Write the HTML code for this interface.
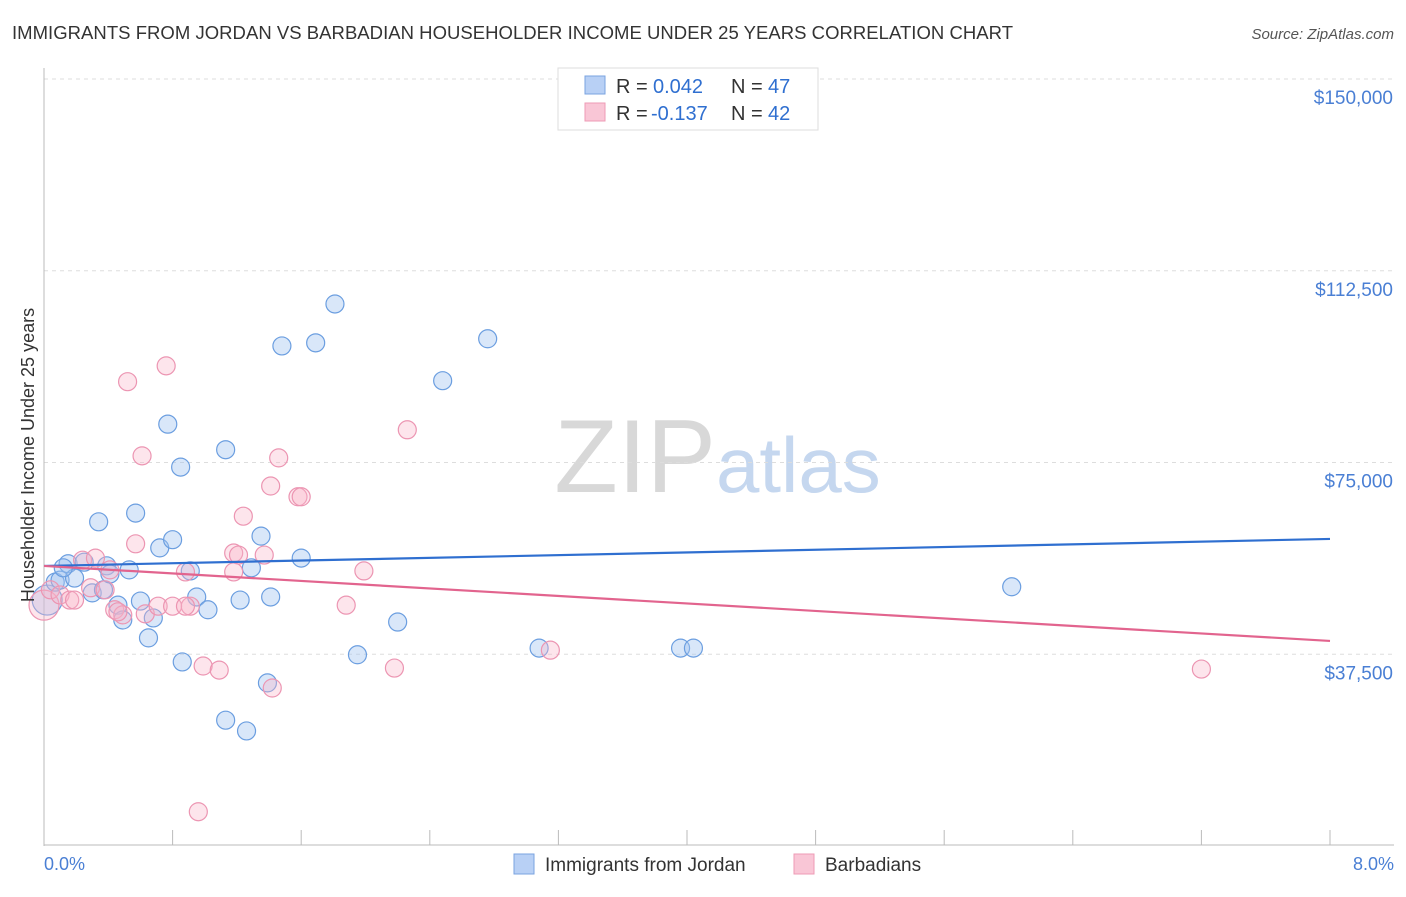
<!DOCTYPE html>
<html><head><meta charset="utf-8"><style>
body{margin:0;background:#fff;font-family:"Liberation Sans",sans-serif;}
svg text{font-family:"Liberation Sans",sans-serif;}
</style></head><body>
<svg id="chart" width="1406" height="892">
<text x="12" y="39" font-size="18.5" fill="#333" textLength="1001">IMMIGRANTS FROM JORDAN VS BARBADIAN HOUSEHOLDER INCOME UNDER 25 YEARS CORRELATION CHART</text>
<text x="1394" y="39" font-size="15" fill="#555" font-style="italic" text-anchor="end">Source: ZipAtlas.com</text>
<text x="716" y="492" font-size="104" fill="#d8d8d8" font-family="Liberation Serif" text-anchor="end">ZIP</text>
<text x="716" y="492" font-size="78" fill="#c5d7ef">atlas</text>
<g id="grid"></g><g id="axes"></g><g id="pts"></g><g id="lines"></g>
<text transform="translate(34,455) rotate(-90)" font-size="18" fill="#333" text-anchor="middle">Householder Income Under 25 years</text>
<text x="44" y="870" font-size="18" fill="#4a7fd4">0.0%</text>
<text x="1394" y="870" font-size="18" fill="#4a7fd4" text-anchor="end">8.0%</text>
<g>
<rect x="558" y="68" width="260" height="62" fill="#fff" stroke="#ddd"/>
<rect x="585" y="76" width="20" height="18" fill="#b8d0f5" stroke="#7aa3e0"/>
<rect x="585" y="103" width="20" height="18" fill="#f9c6d6" stroke="#ee9bb5"/>
<text x="616" y="93" font-size="20" fill="#333">R =</text>
<text x="653" y="93" font-size="20" fill="#2f6fd0">0.042</text>
<text x="731" y="93" font-size="20" fill="#333">N =</text>
<text x="768" y="93" font-size="20" fill="#2f6fd0">47</text>
<text x="616" y="120" font-size="20" fill="#333">R =</text>
<text x="651" y="120" font-size="20" fill="#2f6fd0">-0.137</text>
<text x="731" y="120" font-size="20" fill="#333">N =</text>
<text x="768" y="120" font-size="20" fill="#2f6fd0">42</text>
</g>
<g>
<rect x="514" y="854" width="20" height="20" fill="#b8d0f5" stroke="#7aa3e0"/>
<text x="545" y="871" font-size="19" fill="#333">Immigrants from Jordan</text>
<rect x="794" y="854" width="20" height="20" fill="#f9c6d6" stroke="#ee9bb5"/>
<text x="825" y="871" font-size="19" fill="#333">Barbadians</text>
</g>
</svg>
<script>
const yTicks=[37500,75000,112500,150000];
const yTickLabels=["$37,500","$75,000","$112,500","$150,000"];
const xTicks=[0.8,1.6,2.4,3.2,4.0,4.8,5.6,6.4,7.2,8.0];
const jordanX=[0.02,0.07,0.10,0.15,0.19,0.25,0.30,0.34,0.37,0.39,0.41,0.46,0.49,0.53,0.57,0.60,0.65,0.68,0.72,0.77,0.80,0.85,0.86,0.91,0.95,1.02,1.13,1.13,1.22,1.26,1.29,1.35,1.39,1.41,1.48,1.60,1.69,1.81,1.95,2.20,2.48,2.76,3.08,3.96,4.04,6.02,0.12];
const jordanY=[48.1,51.6,52.0,55.2,52.4,55.5,49.5,63.4,50.1,54.8,53.2,47.1,44.2,54.0,65.1,47.9,40.7,44.6,58.3,82.5,59.9,74.1,36.0,53.8,48.7,46.2,24.6,77.5,48.1,22.5,54.4,60.6,31.9,48.7,97.8,56.3,98.4,106.0,37.4,43.8,91.0,99.2,38.7,38.7,38.7,50.7,54.4];
const barbX=[0,0.04,0.10,0.16,0.19,0.24,0.29,0.32,0.38,0.41,0.44,0.49,0.52,0.57,0.61,0.63,0.71,0.76,0.80,0.88,0.91,0.99,1.09,1.18,1.21,1.24,1.18,1.37,1.41,1.42,1.46,1.58,1.60,1.88,1.99,2.18,2.26,3.15,7.20,0.96,0.88,0.46];
const barbY=[47.1,50.1,49.1,48.1,48.1,55.9,50.5,56.3,50.1,54.0,46.2,45.2,90.8,59.1,76.3,45.4,46.9,93.9,46.9,53.6,46.9,35.2,34.4,57.3,56.9,64.5,53.6,56.9,70.4,30.9,75.9,68.3,68.3,47.1,53.8,34.8,81.4,38.3,34.6,6.7,46.9,45.8];
const jordanTrend=[54.77,60.05];
const barbTrend=[54.77,40.10];
const NS="http://www.w3.org/2000/svg";
const X=v=>44+v/8*1286;
const Y=v=>846-v/150000*767;
function mk(t,a,p){const e=document.createElementNS(NS,t);for(const k in a)e.setAttribute(k,a[k]);p.appendChild(e);return e;}
const grid=document.getElementById('grid'),axes=document.getElementById('axes'),pts=document.getElementById('pts'),lines=document.getElementById('lines');
yTicks.forEach((t,i)=>{
 const g=mk('line',{x1:44,x2:1394,y1:Y(t),y2:Y(t),stroke:'#ddd','stroke-dasharray':'4,4'},grid);
 
 
 const l=mk('text',{x:1393,y:Y(t)+25,'font-size':19,fill:'#4a7fd4','text-anchor':'end'},grid);
 l.textContent=yTickLabels[i];
 
 
});
mk('line',{x1:44,x2:44,y1:68,y2:846,stroke:'#bbb'},axes);
mk('line',{x1:44,x2:1394,y1:845,y2:845,stroke:'#bbb'},axes);
xTicks.forEach(t=>{
 const e=mk('line',{x1:X(t),x2:X(t),y1:830,y2:845,stroke:'#bbb'},axes);
 
 
});
function dots(xs,ys,fill,stroke,name){xs.forEach((x,i)=>{
 const c=mk('circle',{cx:X(x),cy:Y(ys[i]*1000),r:i===0?15:9,fill:fill,stroke:stroke,'stroke-width':1.2},pts);
 
 
});}
dots(jordanX,jordanY,'rgba(160,195,240,0.4)','#6b9ee0','jordan-point');
dots(barbX,barbY,'rgba(248,180,200,0.35)','#ec95b2','barbadian-point');
const l1=mk('line',{x1:X(0),x2:X(8),y1:Y(jordanTrend[0]*1000),y2:Y(jordanTrend[1]*1000),stroke:'#2f6fd0','stroke-width':2.2},lines);


const l2=mk('line',{x1:X(0),x2:X(8),y1:Y(barbTrend[0]*1000),y2:Y(barbTrend[1]*1000),stroke:'#e2648e','stroke-width':2.2},lines);


</script>
</body></html>
